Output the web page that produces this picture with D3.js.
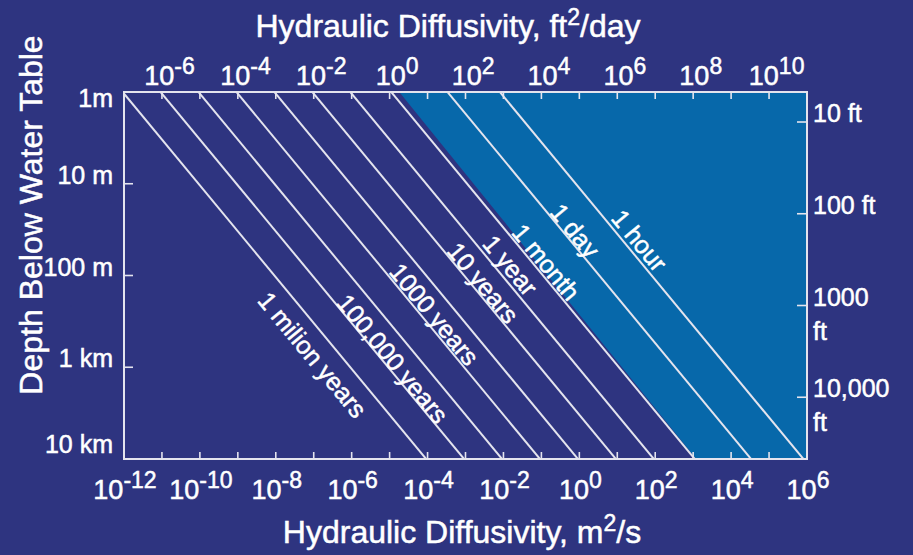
<!DOCTYPE html>
<html>
<head>
<meta charset="utf-8">
<script src="https://cdn.jsdelivr.net/npm/d3@7"></script>
<style>
  html, body { margin: 0; padding: 0; background: #2e3480; }
  svg { display: block; }
  text { font-family: "Liberation Sans", Arial, Helvetica, sans-serif; fill: #ffffff;
         stroke: #ffffff; stroke-width: 0.5px; }
</style>
</head>
<body>
<svg id="chart" width="913" height="555"></svg>
<script>
// Diffusion time contours: depth reached z for a diffusivity D after time t,
// drawn as D = C * z^2 / t on log-log axes.
const timeLabels = ["1 milion years", "100,000 years", "", "1000 years", "", "10 years",
                    "1 year", "1 month", "1 day", "1 hour"];
const timeSeconds = [3.156e13, 3.156e12, 3.156e11, 3.156e10, 3.156e9, 3.156e8,
                     3.156e7, 2.63e6, 86400, 3600];
const diffusionConstant = 29;

// Shaded (fast) region edge: diffusivity at the shallow and deep ends
const shadeEdgeD = [1.8e-5, 1.2e3];

// Axes
const diffusivityDomain = [1e-12, 1e6];      // m^2/s
const depthDomain = [1, 1e4];                // m
const diffusivityFtDomain = [Math.pow(10, -7.2), Math.pow(10, 10.8)]; // ft^2/day
const depthFtDomain = [Math.pow(10, 0.673), Math.pow(10, 4.673)];     // ft

const bottomTickExps = [-12, -10, -8, -6, -4, -2, 0, 2, 4, 6];
const topTickExps = [-6, -4, -2, 0, 2, 4, 6, 8, 10];
const depthTicks = [1, 10, 100, 1000, 10000];
const depthTickLabels = ["1m", "10 m", "100 m", "1 km", "10 km"];
const depthFtTicks = [10, 100, 1000, 10000];
const depthFtTickLabels = [["10 ft"], ["100 ft"], ["1000", "ft"], ["10,000", "ft"]];

const svg = d3.select("#chart");
const W = 913, H = 555;
const plot = { left: 124, top: 92, right: 807, bottom: 459 };

const navy = "#2e3480";
const fastBlue = "#0768aa";
const ink = "#e4e4ee";

svg.append("rect").attr("width", W).attr("height", H).attr("fill", navy);

const x = d3.scaleLog().domain(diffusivityDomain).range([plot.left, plot.right]);
const y = d3.scaleLog().domain(depthDomain).range([plot.top, plot.bottom]);
const xFt = d3.scaleLog().domain(diffusivityFtDomain).range([plot.left, plot.right]);
const yFt = d3.scaleLog().domain(depthFtDomain).range([plot.top, plot.bottom]);

svg.append("defs").append("clipPath").attr("id", "plotClip")
  .append("rect")
  .attr("x", plot.left).attr("y", plot.top)
  .attr("width", plot.right - plot.left).attr("height", plot.bottom - plot.top);

const g = svg.append("g").attr("clip-path", "url(#plotClip)");

// Fast-diffusion shading
const area = d3.line().x(d => x(d[0])).y(d => y(d[1]));
g.append("path")
  .attr("d", area([[shadeEdgeD[0], depthDomain[0]], [diffusivityDomain[1], depthDomain[0]],
                   [diffusivityDomain[1], depthDomain[1]], [shadeEdgeD[1], depthDomain[1]]]) + "Z")
  .attr("fill", fastBlue);

// Contour lines
const dAt = (z, t) => diffusionConstant * z * z / t;
const lineGen = d3.line().x(d => x(d[0])).y(d => y(d[1]));
timeSeconds.forEach(t => {
  g.append("path")
    .attr("d", lineGen([[dAt(0.5, t), 0.5], [dAt(2e4, t), 2e4]]))
    .attr("stroke", ink).attr("stroke-width", 2).attr("fill", "none");
});

// Frame
svg.append("rect")
  .attr("x", plot.left).attr("y", plot.top)
  .attr("width", plot.right - plot.left).attr("height", plot.bottom - plot.top)
  .attr("fill", "none").attr("stroke", ink).attr("stroke-width", 2);

// Inward ticks
const decadeTicks = d3.range(-11, 6).map(e => Math.pow(10, e));
const tickG = svg.append("g").attr("stroke", ink).attr("stroke-width", 1.6);
decadeTicks.forEach(v => {
  tickG.append("line").attr("x1", x(v)).attr("x2", x(v))
    .attr("y1", plot.bottom).attr("y2", plot.bottom - 7);
  tickG.append("line").attr("x1", x(v)).attr("x2", x(v))
    .attr("y1", plot.top).attr("y2", plot.top + 7);
});
depthTicks.slice(1, -1).forEach(v => {
  tickG.append("line").attr("x1", plot.left).attr("x2", plot.left + 9)
    .attr("y1", y(v)).attr("y2", y(v));
});
depthFtTicks.forEach(v => {
  tickG.append("line").attr("x1", plot.right).attr("x2", plot.right - 10)
    .attr("y1", yFt(v)).attr("y2", yFt(v));
});

// Power-of-ten labels
function powerLabel(sel, exp) {
  sel.append("tspan").text("10");
  sel.append("tspan").attr("dy", -11).attr("font-size", "23px").text(String(exp));
}
bottomTickExps.forEach(e => {
  const t = svg.append("text")
    .attr("x", x(Math.pow(10, e)) + 1).attr("y", 499)
    .attr("text-anchor", "middle").attr("font-size", "27px");
  powerLabel(t, e);
});
topTickExps.forEach(e => {
  const t = svg.append("text")
    .attr("x", xFt(Math.pow(10, e))).attr("y", 85)
    .attr("text-anchor", "middle").attr("font-size", "27px");
  powerLabel(t, e);
});

// Depth labels (metres, left)
depthTicks.forEach((v, i) => {
  const yy = Math.max(plot.top + 15, Math.min(plot.bottom - 6, y(v)));
  svg.append("text")
    .attr("x", 113).attr("y", yy)
    .attr("text-anchor", "end").attr("font-size", "25px")
    .text(depthTickLabels[i]);
});

// Depth labels (feet, right)
depthFtTicks.forEach((v, i) => {
  const t = svg.append("text")
    .attr("x", 813).attr("y", yFt(v)).attr("font-size", "25px");
  depthFtTickLabels[i].forEach((s, j) => {
    t.append("tspan").attr("x", 813).attr("dy", j === 0 ? 0 : 34).text(s);
  });
});

// Axis titles
const topTitle = svg.append("text")
  .attr("x", 448).attr("y", 37).attr("text-anchor", "middle").attr("font-size", "32px");
topTitle.append("tspan").text("Hydraulic Diffusivity, ft");
topTitle.append("tspan").attr("dy", -12).attr("font-size", "23px").text("2");
topTitle.append("tspan").attr("dy", 12).text("/day");

const bottomTitle = svg.append("text")
  .attr("x", 462).attr("y", 543).attr("text-anchor", "middle").attr("font-size", "32px");
bottomTitle.append("tspan").text("Hydraulic Diffusivity, m");
bottomTitle.append("tspan").attr("dy", -12).attr("font-size", "23px").text("2");
bottomTitle.append("tspan").attr("dy", 12).text("/s");

svg.append("text")
  .attr("transform", "translate(42,215) rotate(-90)")
  .attr("text-anchor", "middle").attr("font-size", "32px")
  .text("Depth Below Water Table");

// Contour labels: depth of the label centre along the line, and its
// perpendicular offset from the line (positive = upper-right side)
const labelLayout = {
  "1 milion years": [521, -21],
  "100,000 years": [929, 9],
  "1000 years": [314, 11],
  "10 years": [141, 10],
  "1 year": [95, 13],
  "1 month": [85, 11],
  "1 day": [38, 10],
  "1 hour": [51, 13]
};
timeSeconds.forEach((t, i) => {
  const name = timeLabels[i];
  if (!name) return;
  const [z, off] = labelLayout[name];
  const x0 = x(dAt(1, t)), y0 = y(1), x1 = x(dAt(10, t)), y1 = y(10);
  const ang = Math.atan2(y1 - y0, x1 - x0);
  const px = x(dAt(z, t)) + off * Math.sin(ang);
  const py = y(z) - off * Math.cos(ang);
  svg.append("text")
    .attr("transform", `translate(${px},${py}) rotate(${ang * 180 / Math.PI})`)
    .attr("text-anchor", "middle").attr("dominant-baseline", "central")
    .attr("font-size", "25px")
    .text(name);
});
</script>
</body>
</html>
